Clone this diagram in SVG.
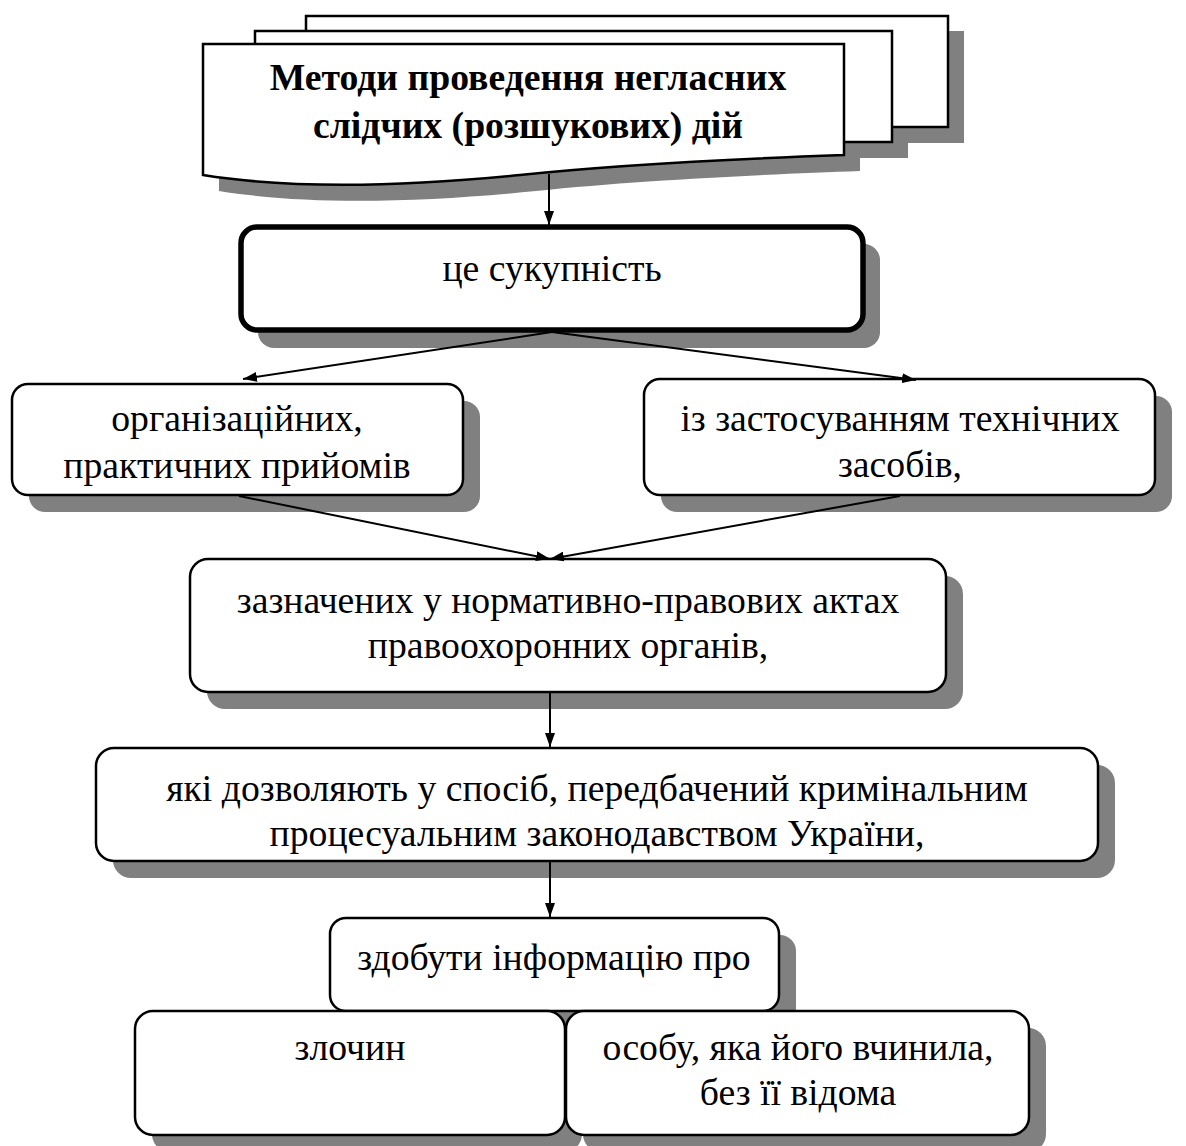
<svg xmlns="http://www.w3.org/2000/svg" width="1186" height="1146" viewBox="0 0 1186 1146">
<defs>
<style>
.sh{fill:#808080;stroke:none}
.bx{fill:#fff;stroke:#000;stroke-width:2.5}
.bxt{fill:#fff;stroke:#000;stroke-width:5.5}
.t{font-family:"Liberation Serif","Times New Roman","DejaVu Serif",serif;font-size:37.7px;fill:#000;text-anchor:middle}
.tb{font-weight:bold}
.c{stroke:#000;stroke-width:2;fill:none;marker-end:url(#ah)}
</style>
<marker id="ah" viewBox="0 0 14 10" refX="14" refY="5" markerWidth="14" markerHeight="10" markerUnits="userSpaceOnUse" orient="auto">
<path d="M0,0 L14,5 L0,10 Z" fill="#000"/>
</marker>
</defs>
<rect width="1186" height="1146" fill="#fff"/>

<g id="shadows">
<rect class="sh" x="322" y="31" width="642" height="112"/>
<rect class="sh" x="271" y="46" width="637" height="112"/>
<path class="sh" d="M219,60 L860,60 L860,171 C776,174 640,180 536,191 C416,203 306,205 219,191 Z"/>
<rect class="sh" x="258" y="244" width="622" height="104" rx="16"/>
<rect class="sh" x="29" y="401" width="451" height="111" rx="16"/>
<rect class="sh" x="661" y="396" width="511" height="116" rx="16"/>
<rect class="sh" x="207" y="576" width="756" height="133" rx="18"/>
<rect class="sh" x="113" y="765" width="1002" height="113" rx="18"/>
<rect class="sh" x="347" y="935" width="449" height="93" rx="16"/>
<rect class="sh" x="152" y="1028" width="430" height="124" rx="18"/>
<rect class="sh" x="583" y="1028" width="463" height="124" rx="18"/>
</g>

<g id="n-title">
<rect class="bx" x="306" y="16" width="642" height="111"/>
<rect class="bx" x="255" y="31" width="637" height="111"/>
<path class="bx" d="M203,44 L844,44 L844,155 C760,158 624,164 520,175 C400,187 290,189 203,175 Z"/>
<text class="t tb" x="528" y="90">Методи проведення негласних</text>
<text class="t tb" x="528" y="138">слідчих (розшукових) дій</text>
</g>

<g id="n-sukupnist">
<rect class="bxt" x="241" y="227" width="622" height="103" rx="16"/>
<text class="t" x="552" y="281">це сукупність</text>
</g>

<g id="n-org">
<rect class="bx" x="12" y="384" width="451" height="111" rx="16"/>
<text class="t" x="237" y="431">організаційних,</text>
<text class="t" x="237" y="478">практичних прийомів</text>
</g>

<g id="n-tech">
<rect class="bx" x="644" y="379" width="511" height="116" rx="16"/>
<text class="t" x="900" y="431">із застосуванням технічних</text>
<text class="t" x="900" y="477">засобів,</text>
</g>

<g id="n-norm">
<rect class="bx" x="190" y="559" width="756" height="133" rx="18"/>
<text class="t" x="568" y="613">зазначених у нормативно-правових актах</text>
<text class="t" x="568" y="658">правоохоронних органів,</text>
</g>

<g id="n-dozv">
<rect class="bx" x="96" y="748" width="1002" height="113" rx="18"/>
<text class="t" x="597" y="801">які дозволяють у спосіб, передбачений кримінальним</text>
<text class="t" x="597" y="846">процесуальним законодавством України,</text>
</g>

<g id="n-zdob">
<rect class="bx" x="330" y="918" width="449" height="93" rx="16"/>
<text class="t" x="554" y="970">здобути інформацію про</text>
</g>

<g id="n-zlochyn">
<rect class="bx" x="135" y="1011" width="430" height="124" rx="18"/>
<text class="t" x="350" y="1060">злочин</text>
</g>

<g id="n-osobu">
<rect class="bx" x="566" y="1011" width="463" height="124" rx="18"/>
<text class="t" x="798" y="1060">особу, яка його вчинила,</text>
<text class="t" x="798" y="1105">без її відома</text>
</g>

<g id="connectors">
<line class="c" x1="549" y1="174" x2="549" y2="225"/>
<line class="c" x1="552" y1="332" x2="243" y2="379"/>
<line class="c" x1="552" y1="332" x2="916" y2="380"/>
<line class="c" x1="239" y1="496" x2="550" y2="559"/>
<line class="c" x1="900" y1="496" x2="550" y2="559"/>
<line class="c" x1="550" y1="692" x2="550" y2="747"/>
<line class="c" x1="550" y1="861" x2="550" y2="917"/>
</g>
</svg>
